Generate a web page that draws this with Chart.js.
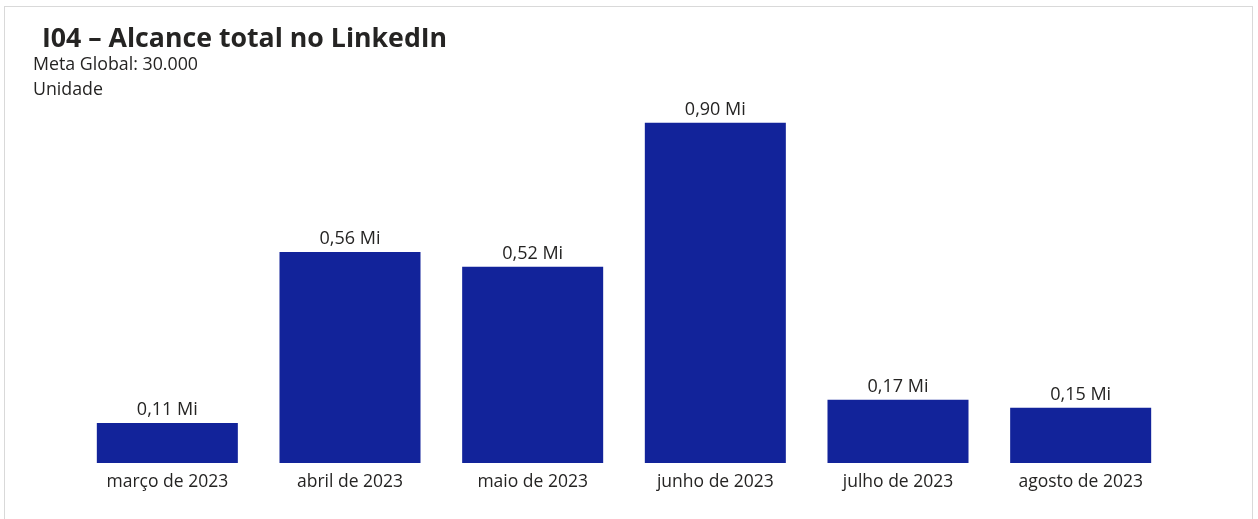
<!DOCTYPE html>
<html>
<head>
<meta charset="utf-8">
<script src="https://cdn.jsdelivr.net/npm/chart.js@4/dist/chart.umd.min.js"></script>
<style>
  html, body { margin: 0; padding: 0; background: #fff; }
  body { width: 1258px; height: 519px; position: relative; overflow: hidden; font-family: "Segoe UI", "Open Sans", "Noto Sans", sans-serif; }
  #frame { position: absolute; left: 4px; top: 6px; width: 1249px; height: 540px; border: 1px solid #d9d9d9; box-sizing: border-box; }
  #title { position: absolute; left: 42px; top: 21px; font-size: 26.7px; font-weight: 700; color: #252423; line-height: 32px; white-space: nowrap; }
  .sub { position: absolute; left: 33px; font-size: 17.8px; color: #252423; line-height: 20px; white-space: nowrap; }
  #c { position: absolute; left: 0; top: 0; }
</style>
</head>
<body>
<div id="frame"></div>
<canvas id="c" width="1258" height="519"></canvas>
<div id="title">I04 – Alcance total no LinkedIn</div>
<div class="sub" style="top:53px">Meta Global: 30.000</div>
<div class="sub" style="top:78px">Unidade</div>
<script>
const categories = ["março de 2023", "abril de 2023", "maio de 2023", "junho de 2023", "julho de 2023", "agosto de 2023"];
const alcanceMi = [0.106, 0.558, 0.519, 0.90, 0.167, 0.146];
const valueUnit = " Mi";

const labelPlugin = {
  id: 'barLabels',
  afterDatasetsDraw(chart) {
    const ctx = chart.ctx;
    const meta = chart.getDatasetMeta(0);
    ctx.save();
    ctx.font = '18px "Segoe UI", "Open Sans", "Noto Sans", sans-serif';
    ctx.fillStyle = '#252423';
    ctx.textAlign = 'center';
    ctx.textBaseline = 'alphabetic';
    meta.data.forEach((bar, i) => {
      const v = chart.data.datasets[0].data[i];
      const txt = v.toFixed(2).replace('.', ',') + valueUnit;
      ctx.fillText(txt, bar.x, bar.y - 8);
    });
    ctx.restore();
  }
};

new Chart(document.getElementById('c'), {
  type: 'bar',
  data: {
    labels: categories,
    datasets: [{
      data: alcanceMi,
      backgroundColor: '#12239A',
      borderWidth: 0,
      categoryPercentage: 1.0,
      barPercentage: 0.772
    }]
  },
  options: {
    responsive: false,
    animation: false,
    devicePixelRatio: 1,
    layout: { padding: { left: 76, right: 86, top: 85, bottom: 17 } },
    plugins: { legend: { display: false }, tooltip: { enabled: false } },
    scales: {
      x: {
        grid: { display: false, drawTicks: false, tickLength: 0 },
        border: { display: false },
        ticks: {
          padding: 9,
          color: '#252423',
          font: { size: 17.5, family: '"Segoe UI", "Open Sans", "Noto Sans", sans-serif' },
          maxRotation: 0,
          autoSkip: false
        }
      },
      y: { display: false, min: 0, max: 1.0 }
    }
  },
  plugins: [labelPlugin]
});
</script>
</body>
</html>
